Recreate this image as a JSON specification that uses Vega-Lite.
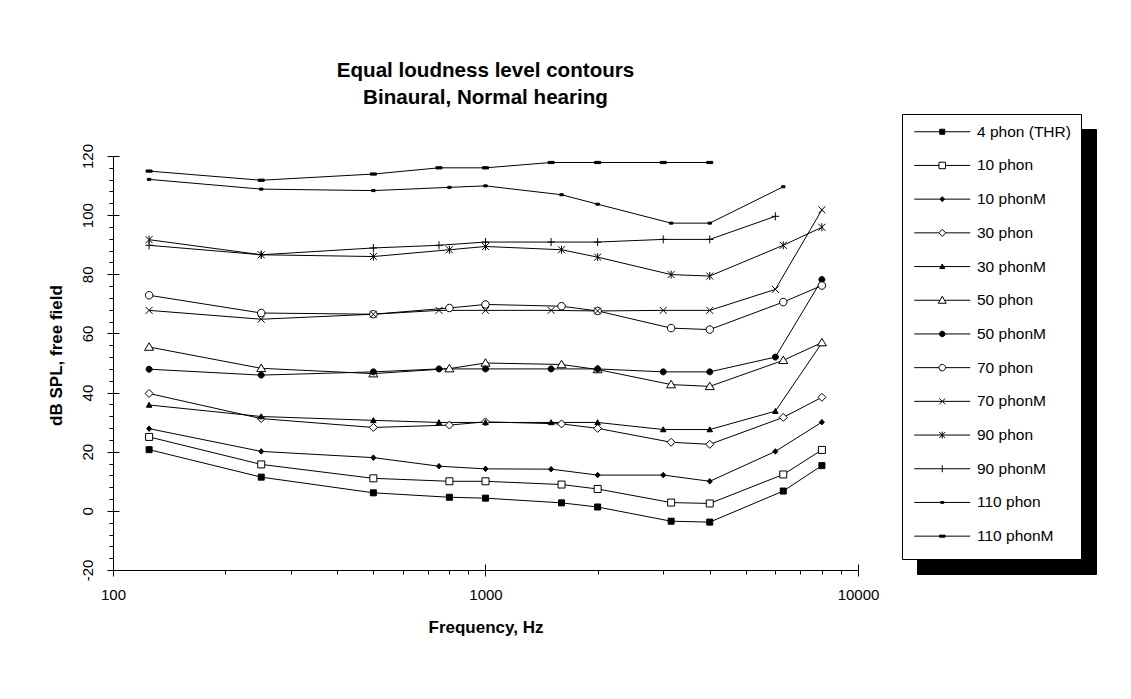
{
  "$schema": "https://vega.github.io/schema/vega-lite/v6.json",
  "width": 745,
  "height": 414,
  "autosize": {"type": "none"},
  "padding": {"left": 113, "top": 156, "right": 273, "bottom": 129},
  "background": "white",
  "title": {
    "text": ["Equal loudness level contours", "Binaural, Normal hearing"],
    "font": "Liberation Sans",
    "fontSize": 20.6,
    "fontWeight": "bold",
    "color": "black",
    "anchor": "middle",
    "frame": "group",
    "offset": 5,
    "lineHeight": 27
  },
  "config": {
    "view": {"stroke": null},
    "axis": {"grid": false, "domainColor": "black", "tickColor": "black", "labelColor": "black", "titleColor": "black", "labelFont": "Liberation Sans", "titleFont": "Liberation Sans"}
  },
  "data": {
    "values": [
      {"series": "4 phon (THR)", "freq": 125, "spl": 20.7},
      {"series": "4 phon (THR)", "freq": 250, "spl": 11.4},
      {"series": "4 phon (THR)", "freq": 500, "spl": 6.1},
      {"series": "4 phon (THR)", "freq": 800, "spl": 4.6},
      {"series": "4 phon (THR)", "freq": 1000, "spl": 4.3},
      {"series": "4 phon (THR)", "freq": 1600, "spl": 2.7},
      {"series": "4 phon (THR)", "freq": 2000, "spl": 1.3},
      {"series": "4 phon (THR)", "freq": 3150, "spl": -3.5},
      {"series": "4 phon (THR)", "freq": 4000, "spl": -3.8},
      {"series": "4 phon (THR)", "freq": 6300, "spl": 6.7},
      {"series": "4 phon (THR)", "freq": 8000, "spl": 15.3},
      {"series": "10 phon", "freq": 125, "spl": 25.0},
      {"series": "10 phon", "freq": 250, "spl": 15.7},
      {"series": "10 phon", "freq": 500, "spl": 11.0},
      {"series": "10 phon", "freq": 800, "spl": 10.0},
      {"series": "10 phon", "freq": 1000, "spl": 10.0},
      {"series": "10 phon", "freq": 1600, "spl": 8.9},
      {"series": "10 phon", "freq": 2000, "spl": 7.4},
      {"series": "10 phon", "freq": 3150, "spl": 2.8},
      {"series": "10 phon", "freq": 4000, "spl": 2.5},
      {"series": "10 phon", "freq": 6300, "spl": 12.3},
      {"series": "10 phon", "freq": 8000, "spl": 20.6},
      {"series": "10 phonM", "freq": 125, "spl": 27.8},
      {"series": "10 phonM", "freq": 250, "spl": 20.1},
      {"series": "10 phonM", "freq": 500, "spl": 18.0},
      {"series": "10 phonM", "freq": 750, "spl": 15.1},
      {"series": "10 phonM", "freq": 1000, "spl": 14.2},
      {"series": "10 phonM", "freq": 1500, "spl": 14.1},
      {"series": "10 phonM", "freq": 2000, "spl": 12.1},
      {"series": "10 phonM", "freq": 3000, "spl": 12.1},
      {"series": "10 phonM", "freq": 4000, "spl": 10.0},
      {"series": "10 phonM", "freq": 6000, "spl": 20.1},
      {"series": "10 phonM", "freq": 8000, "spl": 30.0},
      {"series": "30 phon", "freq": 125, "spl": 39.7},
      {"series": "30 phon", "freq": 250, "spl": 31.2},
      {"series": "30 phon", "freq": 500, "spl": 28.2},
      {"series": "30 phon", "freq": 800, "spl": 29.0},
      {"series": "30 phon", "freq": 1000, "spl": 30.1},
      {"series": "30 phon", "freq": 1600, "spl": 29.4},
      {"series": "30 phon", "freq": 2000, "spl": 27.9},
      {"series": "30 phon", "freq": 3150, "spl": 23.2},
      {"series": "30 phon", "freq": 4000, "spl": 22.5},
      {"series": "30 phon", "freq": 6300, "spl": 31.6},
      {"series": "30 phon", "freq": 8000, "spl": 38.4},
      {"series": "30 phonM", "freq": 125, "spl": 35.8},
      {"series": "30 phonM", "freq": 250, "spl": 31.9},
      {"series": "30 phonM", "freq": 500, "spl": 30.6},
      {"series": "30 phonM", "freq": 750, "spl": 29.9},
      {"series": "30 phonM", "freq": 1000, "spl": 29.9},
      {"series": "30 phonM", "freq": 1500, "spl": 29.9},
      {"series": "30 phonM", "freq": 2000, "spl": 29.9},
      {"series": "30 phonM", "freq": 3000, "spl": 27.5},
      {"series": "30 phonM", "freq": 4000, "spl": 27.5},
      {"series": "30 phonM", "freq": 6000, "spl": 33.7},
      {"series": "30 phonM", "freq": 8000, "spl": 56.8},
      {"series": "50 phon", "freq": 125, "spl": 55.4},
      {"series": "50 phon", "freq": 250, "spl": 48.2},
      {"series": "50 phon", "freq": 500, "spl": 46.4},
      {"series": "50 phon", "freq": 800, "spl": 48.1},
      {"series": "50 phon", "freq": 1000, "spl": 50.0},
      {"series": "50 phon", "freq": 1600, "spl": 49.5},
      {"series": "50 phon", "freq": 2000, "spl": 47.8},
      {"series": "50 phon", "freq": 3150, "spl": 42.7},
      {"series": "50 phon", "freq": 4000, "spl": 42.1},
      {"series": "50 phon", "freq": 6300, "spl": 50.9},
      {"series": "50 phon", "freq": 8000, "spl": 56.9},
      {"series": "50 phonM", "freq": 125, "spl": 47.9},
      {"series": "50 phonM", "freq": 250, "spl": 45.9},
      {"series": "50 phonM", "freq": 500, "spl": 47.0},
      {"series": "50 phonM", "freq": 750, "spl": 48.0},
      {"series": "50 phonM", "freq": 1000, "spl": 48.0},
      {"series": "50 phonM", "freq": 1500, "spl": 48.0},
      {"series": "50 phonM", "freq": 2000, "spl": 48.0},
      {"series": "50 phonM", "freq": 3000, "spl": 47.0},
      {"series": "50 phonM", "freq": 4000, "spl": 47.0},
      {"series": "50 phonM", "freq": 6000, "spl": 52.0},
      {"series": "50 phonM", "freq": 8000, "spl": 78.2},
      {"series": "70 phon", "freq": 125, "spl": 72.9},
      {"series": "70 phon", "freq": 250, "spl": 66.9},
      {"series": "70 phon", "freq": 500, "spl": 66.5},
      {"series": "70 phon", "freq": 800, "spl": 68.6},
      {"series": "70 phon", "freq": 1000, "spl": 69.8},
      {"series": "70 phon", "freq": 1600, "spl": 69.2},
      {"series": "70 phon", "freq": 2000, "spl": 67.6},
      {"series": "70 phon", "freq": 3150, "spl": 61.8},
      {"series": "70 phon", "freq": 4000, "spl": 61.3},
      {"series": "70 phon", "freq": 6300, "spl": 70.6},
      {"series": "70 phon", "freq": 8000, "spl": 76.2},
      {"series": "70 phonM", "freq": 125, "spl": 67.8},
      {"series": "70 phonM", "freq": 250, "spl": 64.8},
      {"series": "70 phonM", "freq": 500, "spl": 66.5},
      {"series": "70 phonM", "freq": 750, "spl": 67.8},
      {"series": "70 phonM", "freq": 1000, "spl": 67.8},
      {"series": "70 phonM", "freq": 1500, "spl": 67.8},
      {"series": "70 phonM", "freq": 2000, "spl": 67.6},
      {"series": "70 phonM", "freq": 3000, "spl": 67.8},
      {"series": "70 phonM", "freq": 4000, "spl": 67.8},
      {"series": "70 phonM", "freq": 6000, "spl": 74.9},
      {"series": "70 phonM", "freq": 8000, "spl": 101.8},
      {"series": "90 phon", "freq": 125, "spl": 91.7},
      {"series": "90 phon", "freq": 250, "spl": 86.6},
      {"series": "90 phon", "freq": 500, "spl": 86.0},
      {"series": "90 phon", "freq": 800, "spl": 88.3},
      {"series": "90 phon", "freq": 1000, "spl": 89.4},
      {"series": "90 phon", "freq": 1600, "spl": 88.3},
      {"series": "90 phon", "freq": 2000, "spl": 85.8},
      {"series": "90 phon", "freq": 3150, "spl": 79.9},
      {"series": "90 phon", "freq": 4000, "spl": 79.4},
      {"series": "90 phon", "freq": 6300, "spl": 89.8},
      {"series": "90 phon", "freq": 8000, "spl": 95.9},
      {"series": "90 phonM", "freq": 125, "spl": 89.8},
      {"series": "90 phonM", "freq": 250, "spl": 86.6},
      {"series": "90 phonM", "freq": 500, "spl": 88.9},
      {"series": "90 phonM", "freq": 750, "spl": 89.8},
      {"series": "90 phonM", "freq": 1000, "spl": 90.9},
      {"series": "90 phonM", "freq": 1500, "spl": 90.9},
      {"series": "90 phonM", "freq": 2000, "spl": 90.9},
      {"series": "90 phonM", "freq": 3000, "spl": 91.8},
      {"series": "90 phonM", "freq": 4000, "spl": 91.8},
      {"series": "90 phonM", "freq": 6000, "spl": 99.6},
      {"series": "110 phon", "freq": 125, "spl": 112.1},
      {"series": "110 phon", "freq": 250, "spl": 108.8},
      {"series": "110 phon", "freq": 500, "spl": 108.3},
      {"series": "110 phon", "freq": 800, "spl": 109.4},
      {"series": "110 phon", "freq": 1000, "spl": 109.9},
      {"series": "110 phon", "freq": 1600, "spl": 106.9},
      {"series": "110 phon", "freq": 2000, "spl": 103.7},
      {"series": "110 phon", "freq": 3150, "spl": 97.3},
      {"series": "110 phon", "freq": 4000, "spl": 97.3},
      {"series": "110 phon", "freq": 6300, "spl": 109.6},
      {"series": "110 phonM", "freq": 125, "spl": 114.9},
      {"series": "110 phonM", "freq": 250, "spl": 111.8},
      {"series": "110 phonM", "freq": 500, "spl": 113.9},
      {"series": "110 phonM", "freq": 750, "spl": 116.0},
      {"series": "110 phonM", "freq": 1000, "spl": 116.0},
      {"series": "110 phonM", "freq": 1500, "spl": 117.8},
      {"series": "110 phonM", "freq": 2000, "spl": 117.8},
      {"series": "110 phonM", "freq": 3000, "spl": 117.8},
      {"series": "110 phonM", "freq": 4000, "spl": 117.8}
    ]
  },
  "layer": [
    {
      "mark": {"type": "line", "color": "black", "strokeWidth": 1},
      "encoding": {
        "x": {"field": "freq", "type": "quantitative", "scale": {"type": "log", "domain": [100, 10000], "nice": false},
          "axis": {"orient": "bottom", "values": [100, 1000, 10000], "format": ".0f", "labelFontSize": 15, "labelFlush": false, "labelOverlap": false, "tickSize": 6, "labelPadding": 11, "title": "Frequency, Hz", "titleFontSize": 17, "titleFontWeight": "bold", "titlePadding": 17}},
        "y": {"field": "spl", "type": "quantitative", "scale": {"domain": [-20, 120], "nice": false, "zero": false},
          "axis": {"orient": "left", "values": [-20, 0, 20, 40, 60, 80, 100, 120], "labelExpr": "toString(datum.value)", "labelAngle": 270, "labelAlign": "center", "labelBaseline": "bottom", "labelFontSize": 15, "labelFlush": false, "labelOverlap": false, "tickSize": 6, "labelPadding": 12, "title": "dB SPL, free field", "titleFontSize": 17, "titleFontWeight": "bold", "titlePadding": 15, "titleY": 199}},
        "detail": {"field": "series"}
      }
    },
    {
      "mark": {"type": "point", "stroke": "black", "strokeWidth": 1, "opacity": 1, "size": 100},
      "encoding": {
        "x": {"field": "freq", "type": "quantitative",
          "axis": {"orient": "bottom", "values": [100, 1000, 10000], "labels": false, "domain": false, "tickSize": -6, "title": null}},
        "y": {"field": "spl", "type": "quantitative",
          "axis": {"orient": "left", "values": [-20, 0, 20, 40, 60, 80, 100, 120], "labels": false, "domain": false, "tickSize": -6, "title": null}},
        "shape": {"field": "series", "type": "nominal", "legend": null,
          "scale": {"domain": ["4 phon (THR)", "10 phon", "10 phonM", "30 phon", "30 phonM", "50 phon", "50 phonM", "70 phon", "70 phonM", "90 phon", "90 phonM", "110 phon", "110 phonM"],
            "range": [
              "M-0.6,-0.6H0.6V0.6H-0.6Z",
              "M-0.7,-0.7H0.7V0.7H-0.7Z",
              "M0,-0.55L0.5,0L0,0.55L-0.5,0Z",
              "M0,-0.8L0.8,0L0,0.8L-0.8,0Z",
              "M0,-0.55L0.55,0.45L-0.55,0.45Z",
              "M0,-0.85L0.9,0.65L-0.9,0.65Z",
              "M0.6,0A0.6,0.6,0,1,1,-0.6,0A0.6,0.6,0,1,1,0.6,0Z",
              "M0.75,0A0.75,0.75,0,1,1,-0.75,0A0.75,0.75,0,1,1,0.75,0Z",
              "M-0.7,-0.7L0.7,0.7M-0.7,0.7L0.7,-0.7",
              "M-0.7,-0.7L0.7,0.7M-0.7,0.7L0.7,-0.7M0,-0.8V0.8",
              "M-0.75,0H0.75M0,-0.8V0.8",
              "M-0.35,-0.2H0.35V0.2H-0.35Z",
              "M-0.6,-0.22H0.6V0.22H-0.6Z"
            ]}},
        "fill": {"field": "series", "type": "nominal", "legend": null,
          "scale": {"domain": ["4 phon (THR)", "10 phon", "10 phonM", "30 phon", "30 phonM", "50 phon", "50 phonM", "70 phon", "70 phonM", "90 phon", "90 phonM", "110 phon", "110 phonM"],
            "range": ["black", "white", "black", "white", "black", "white", "black", "white", "white", "white", "white", "black", "black"]}}
      }
    },
    {
      "transform": [{"filter": "false"}],
      "mark": {"type": "point", "stroke": "black", "strokeWidth": 1, "opacity": 1},
      "encoding": {
        "x": {"field": "freq", "type": "quantitative",
          "axis": {"orient": "bottom", "values": [200, 300, 400, 500, 600, 700, 800, 900, 2000, 3000, 4000, 5000, 6000, 7000, 8000, 9000], "labels": false, "domain": false, "tickSize": 4, "title": null}},
        "y": {"field": "spl", "type": "quantitative",
          "axis": {"orient": "left", "values": [-16, -12, -8, -4, 4, 8, 12, 16, 24, 28, 32, 36, 44, 48, 52, 56, 64, 68, 72, 76, 84, 88, 92, 96, 104, 108, 112, 116], "labels": false, "domain": false, "tickSize": 4, "title": null}},
        "stroke": {"value": "black"},
        "shape": {"field": "series", "type": "nominal",
          "scale": {"domain": ["4 phon (THR)", "10 phon", "10 phonM", "30 phon", "30 phonM", "50 phon", "50 phonM", "70 phon", "70 phonM", "90 phon", "90 phonM", "110 phon", "110 phonM"],
            "range": [
              "M0,-2M0,2M-5.6,0H5.6",
              "M0,-2M0,2M-5.6,0H5.6",
              "M0,-2M0,2M-5.6,0H5.6",
              "M0,-2M0,2M-5.6,0H5.6",
              "M0,-2M0,2M-5.6,0H5.6",
              "M0,-2M0,2M-5.6,0H5.6",
              "M0,-2M0,2M-5.6,0H5.6",
              "M0,-2M0,2M-5.6,0H5.6",
              "M0,-2M0,2M-5.6,0H5.6",
              "M0,-2M0,2M-5.6,0H5.6",
              "M0,-2M0,2M-5.6,0H5.6",
              "M0,-2M0,2M-5.6,0H5.6",
              "M0,-2M0,2M-5.6,0H5.6"
            ]},
          "legend": {"orient": "none", "legendX": 804, "legendY": -27, "title": null, "fillColor": "black", "strokeColor": "black", "padding": 10, "symbolSize": 100, "symbolStrokeWidth": 1, "symbolOffset": 22.5, "labelOffset": 27, "labelFont": "Liberation Sans", "labelFontSize": 15.5, "labelColor": "black", "rowPadding": 8.7, "labelLimit": 200}},
        "fill": {"field": "series", "type": "nominal",
          "scale": {"domain": ["4 phon (THR)", "10 phon", "10 phonM", "30 phon", "30 phonM", "50 phon", "50 phonM", "70 phon", "70 phonM", "90 phon", "90 phonM", "110 phon", "110 phonM"],
            "range": ["black", "black", "black", "black", "black", "black", "black", "black", "black", "black", "black", "black", "black"]},
          "legend": {"orient": "none", "legendX": 804, "legendY": -27, "title": null, "fillColor": "black", "strokeColor": "black", "padding": 10, "symbolSize": 100, "symbolStrokeWidth": 1, "symbolOffset": 22.5, "labelOffset": 27, "labelFont": "Liberation Sans", "labelFontSize": 15.5, "labelColor": "black", "rowPadding": 8.7, "labelLimit": 200}}
      }
    },
    {
      "transform": [{"filter": "false"}],
      "mark": {"type": "point", "stroke": "black", "strokeWidth": 1, "opacity": 1},
      "encoding": {
        "x": {"field": "freq", "type": "quantitative", "axis": null},
        "y": {"field": "spl", "type": "quantitative", "axis": null},
        "stroke": {"value": "black"},
        "shape": {"field": "series", "type": "nominal",
          "scale": {"domain": ["4 phon (THR)", "10 phon", "10 phonM", "30 phon", "30 phonM", "50 phon", "50 phonM", "70 phon", "70 phonM", "90 phon", "90 phonM", "110 phon", "110 phonM"],
            "range": [
              "M0,-2M0,2M-5.6,0H5.6M-0.5,-0.5H0.5V0.5H-0.5Z",
              "M0,-2M0,2M-5.6,0H-0.65M0.65,0H5.6M-0.65,-0.65H0.65V0.65H-0.65Z",
              "M0,-2M0,2M-5.6,0H5.6M0,-0.5L0.45,0L0,0.5L-0.45,0Z",
              "M0,-2M0,2M-5.6,0H-0.7M0.7,0H5.6M0,-0.7L0.7,0L0,0.7L-0.7,0Z",
              "M0,-2M0,2M-5.6,0H5.6M0,-0.5L0.5,0.4L-0.5,0.4Z",
              "M0,-2M0,2M-5.6,0H-0.46M0.46,0H5.6M0,-0.8L0.8,0.6L-0.8,0.6Z",
              "M0,-2M0,2M-5.6,0H5.6M0.55,0A0.55,0.55,0,1,1,-0.55,0A0.55,0.55,0,1,1,0.55,0Z",
              "M0,-2M0,2M-5.6,0H-0.65M0.65,0H5.6M0.65,0A0.65,0.65,0,1,1,-0.65,0A0.65,0.65,0,1,1,0.65,0Z",
              "M0,-2M0,2M-5.6,0H5.6M-0.6,-0.6L0.6,0.6M-0.6,0.6L0.6,-0.6",
              "M0,-2M0,2M-5.6,0H5.6M-0.6,-0.6L0.6,0.6M-0.6,0.6L0.6,-0.6M0,-0.7V0.7",
              "M0,-2M0,2M-5.6,0H5.6M0,-0.7V0.7",
              "M0,-2M0,2M-5.6,0H5.6M-0.3,-0.18H0.3V0.18H-0.3Z",
              "M0,-2M0,2M-5.6,0H5.6M-0.55,-0.2H0.55V0.2H-0.55Z"
            ]},
          "legend": {"orient": "none", "legendX": 789, "legendY": -42, "title": null, "fillColor": "white", "strokeColor": "black", "padding": 10, "symbolSize": 100, "symbolStrokeWidth": 1, "symbolOffset": 22.5, "labelOffset": 27, "labelFont": "Liberation Sans", "labelFontSize": 15.5, "labelColor": "black", "rowPadding": 8.7, "labelLimit": 200}},
        "fill": {"field": "series", "type": "nominal",
          "scale": {"domain": ["4 phon (THR)", "10 phon", "10 phonM", "30 phon", "30 phonM", "50 phon", "50 phonM", "70 phon", "70 phonM", "90 phon", "90 phonM", "110 phon", "110 phonM"],
            "range": ["black", "white", "black", "white", "black", "white", "black", "white", "white", "white", "white", "black", "black"]},
          "legend": {"orient": "none", "legendX": 789, "legendY": -42, "title": null, "fillColor": "white", "strokeColor": "black", "padding": 10, "symbolSize": 100, "symbolStrokeWidth": 1, "symbolOffset": 22.5, "labelOffset": 27, "labelFont": "Liberation Sans", "labelFontSize": 15.5, "labelColor": "black", "rowPadding": 8.7, "labelLimit": 200}}
      }
    }
  ],
  "resolve": {
    "scale": {"shape": "independent", "fill": "independent"},
    "axis": {"x": "independent", "y": "independent"}
  }
}
